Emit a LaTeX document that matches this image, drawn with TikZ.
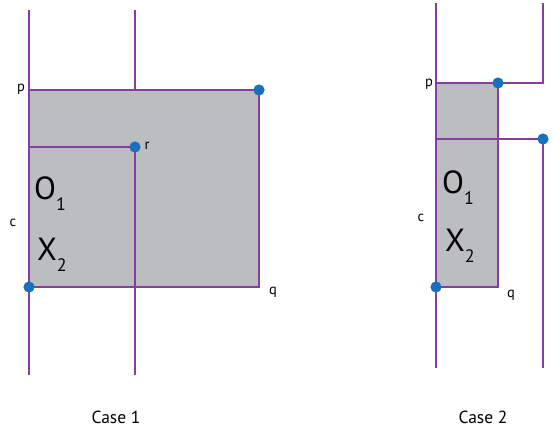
\documentclass[tikz,border=0pt]{standalone}
\usepackage{fontspec}
\setmainfont{PT Sans}
\definecolor{vline}{RGB}{134,62,160}
\definecolor{boxgray}{RGB}{188,189,192}
\definecolor{dotblue}{RGB}{24,112,190}
\tikzset{
  wire/.style={draw=vline, line width=2.9pt},
  gbox/.style={fill=boxgray},
  pt/.style={fill=dotblue, draw=none},
  lbl/.style={font=\fontsize{14.5}{14.5}\selectfont, inner sep=0pt},
  big/.style={font=\fontsize{32}{32}\selectfont, inner sep=0pt, anchor=base west},
  caselbl/.style={font=\fontsize{17.5}{17.5}\selectfont, inner sep=0pt}
}
\newcommand{\sbs}[1]{\raisebox{-0.36em}{\fontsize{18}{18}\selectfont #1}}
\begin{document}
\begin{tikzpicture}[x=1pt,y=-1pt]
\useasboundingbox (0,0) rectangle (553,434);
% ---------- Case 1 ----------
\coordinate (a1t) at (29,10);
\coordinate (a1b) at (29,375);
\coordinate (p1) at (29,90);
\coordinate (c1) at (29,287);
\coordinate (tr1) at (259,90);
\coordinate (q1) at (259,287);
\coordinate (m1t) at (135,10);
\coordinate (m1p) at (135,90);
\coordinate (r1) at (135,147);
\coordinate (l1) at (29,147);
\coordinate (m1b) at (135,375);
\fill[gbox] (p1) rectangle (q1);
\draw[wire] (a1t) -- (a1b);
\draw[wire] (m1t) -- (m1p);
\draw[wire] (r1) -- (m1b);
\draw[wire] (p1) -- (tr1) -- (q1) -- (c1);
\draw[wire] (l1) -- (r1);
\fill[pt] (tr1) circle (5.6);
\fill[pt] (r1) circle (5.6);
\fill[pt] (c1) circle (5.6);
\node[lbl] (pl1) at (21,89) {p};
\node[lbl] (rl1) at (147,146) {r};
\node[lbl] (cl1) at (13,223) {c};
\node[lbl] (ql1) at (273,292) {q};
\node[big] (o1) at (34,199) {O\sbs{1}};
\node[big] (x1) at (37,260) {X\sbs{2}};
\node[caselbl] (case1) at (116,417) {Case 1};
% ---------- Case 2 ----------
\coordinate (a2t) at (436,3);
\coordinate (a2b) at (436,368);
\coordinate (p2) at (436,83);
\coordinate (c2) at (436,287);
\coordinate (tr2) at (498,83);
\coordinate (q2) at (498,287);
\coordinate (b2t) at (543,3);
\coordinate (b2c) at (543,83);
\coordinate (r2) at (543,139);
\coordinate (l2) at (436,139);
\coordinate (b2b) at (543,368);
\fill[gbox] (p2) rectangle (q2);
\draw[wire] (a2t) -- (a2b);
\draw[wire] (b2t) -- (b2c) -- (p2);
\draw[wire] (tr2) -- (q2) -- (c2);
\draw[wire] (l2) -- (r2) -- (b2b);
\fill[pt] (tr2) circle (5.6);
\fill[pt] (r2) circle (5.6);
\fill[pt] (c2) circle (5.6);
\node[lbl] (pl2) at (429,84) {p};
\node[lbl] (cl2) at (421,218) {c};
\node[lbl] (ql2) at (511,295) {q};
\node[big] (o2) at (442,193) {O\sbs{1}};
\node[big] (x2) at (445,251) {X\sbs{2}};
\node[caselbl] (case2) at (483,417) {Case 2};
\end{tikzpicture}
\end{document}
